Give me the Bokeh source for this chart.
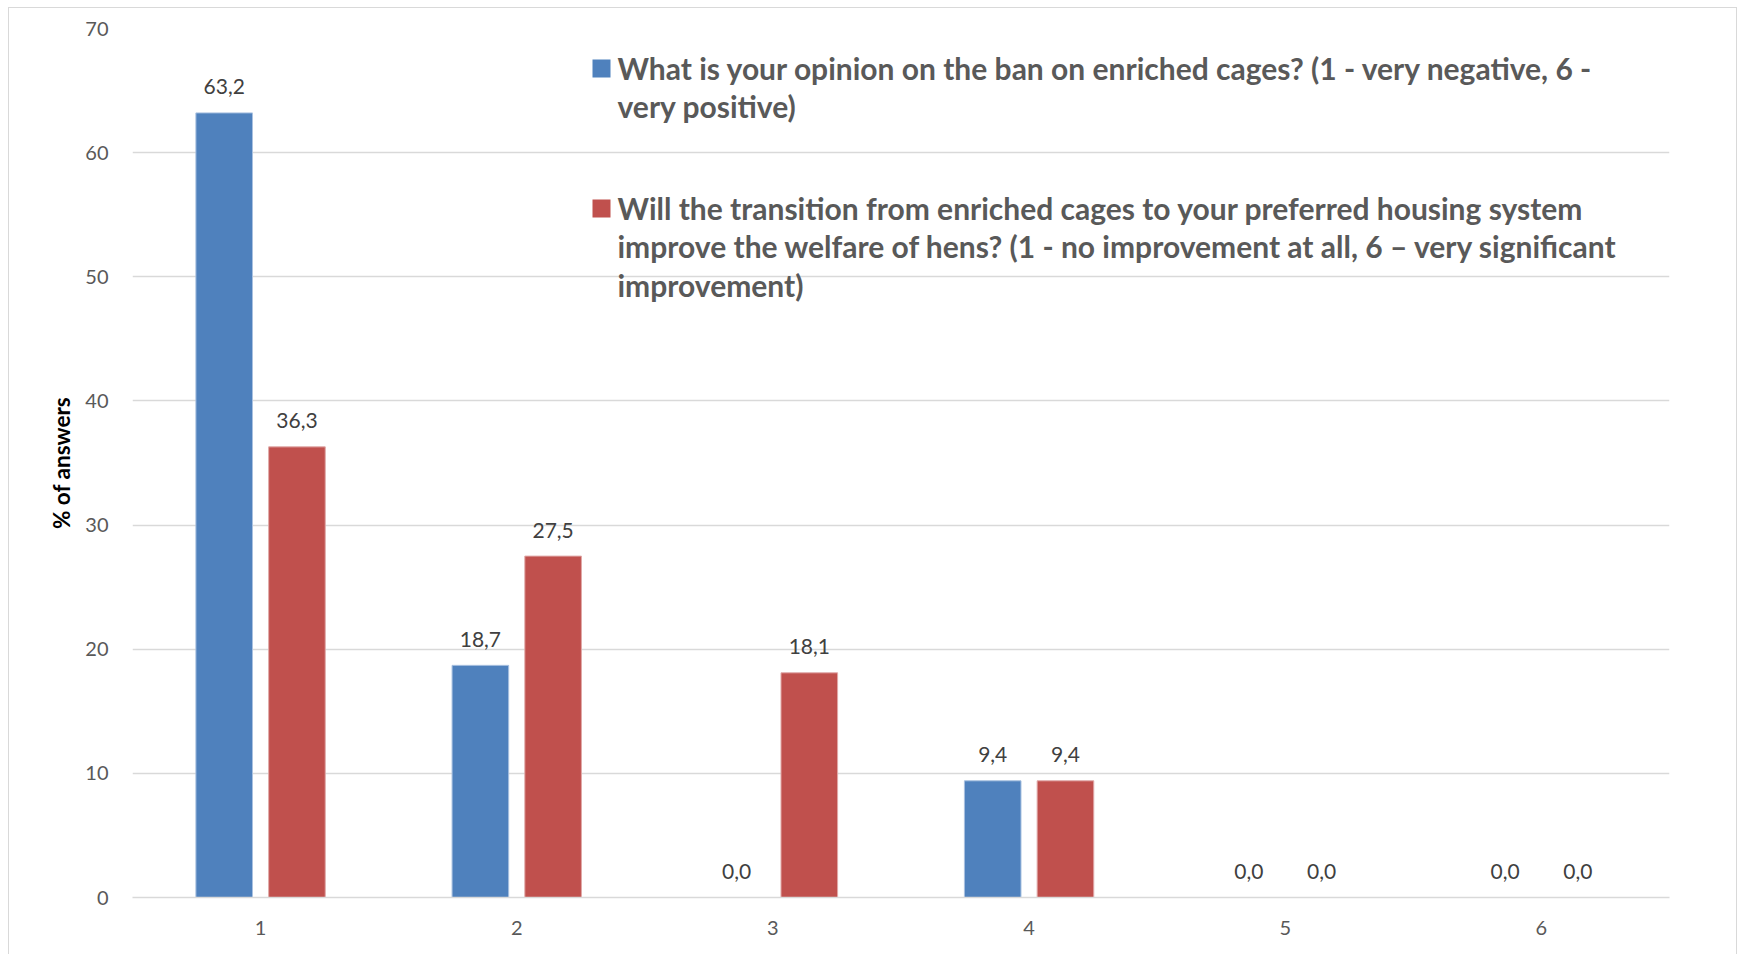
from bokeh.plotting import figure
from bokeh.models import FactorRange, Range1d, ColumnDataSource, FixedTicker, Label, BoxAnnotation
from bokeh.transform import dodge
from bokeh.embed import file_html
from bokeh.resources import INLINE
from bokeh.core.properties import value

# ---- data ----
categories = ["1", "2", "3", "4", "5", "6"]
opinion_on_ban = [63.2, 18.7, 0.0, 9.4, 0.0, 0.0]
welfare_improvement = [36.3, 27.5, 18.1, 9.4, 0.0, 0.0]
series_names = [
    "What is your opinion on the ban on enriched cages? (1 - very negative, 6 -\nvery positive)",
    "Will the transition from enriched cages to your preferred housing system\n"
    "improve the welfare of hens? (1 - no improvement at all, 6 \u2013 very significant\n"
    "improvement)",
]
y_ticks = [0, 10, 20, 30, 40, 50, 60, 70]
y_axis_title = "% of answers"


def fmt(v):
    return f"{v:.1f}".replace(".", ",")


src = ColumnDataSource(dict(
    cat=categories,
    a=opinion_on_ban,
    b=welfare_improvement,
    a_lbl=[fmt(v) for v in opinion_on_ban],
    b_lbl=[fmt(v) for v in welfare_improvement],
))

BLUE = "#4F81BD"
RED = "#C0504D"
GRID = "#d9d9d9"
TXT = "#595959"

p = figure(
    x_range=FactorRange(*categories, range_padding=0),
    y_range=Range1d(0, 70),
    width=1729, height=947,
    output_backend="svg", toolbar_location=None,
    min_border_left=123, min_border_right=69,
    min_border_top=20, min_border_bottom=58,
)
p.styles = {
    "margin-left": "8px", "margin-top": "7px",
    "border-left": "1.5px solid #d9d9d9",
    "border-top": "1.5px solid #d9d9d9",
    "border-right": "1.5px solid #d9d9d9",
    "box-sizing": "border-box",
}
p.outline_line_color = None
p.background_fill_color = "white"
p.border_fill_color = "white"

off = 0.142
bw = 0.221
r1 = p.vbar(x=dodge("cat", -off, range=p.x_range), top="a", width=bw, source=src,
            fill_color=BLUE, line_color="#a9c1e0", line_width=1)
r2 = p.vbar(x=dodge("cat", off, range=p.x_range), top="b", width=bw, source=src,
            fill_color=RED, line_color="#e0a9a8", line_width=1)

for col, lbl, sgn in (("a", "a_lbl", -1), ("b", "b_lbl", 1)):
    p.text(x=dodge("cat", sgn * off, range=p.x_range), y=col, text=lbl, source=src,
           text_align="center", text_baseline="alphabetic", y_offset=-26,
           text_font=value("Lato"), text_font_size="21px", text_color="#404040")

# axes
p.yaxis.ticker = FixedTicker(ticks=y_ticks)
p.yaxis.axis_line_color = None
p.yaxis.major_tick_line_color = None
p.yaxis.minor_tick_line_color = None
p.yaxis.major_label_standoff = 18
p.yaxis.major_label_text_font = "Lato"
p.yaxis.major_label_text_font_size = "20px"
p.yaxis.major_label_text_color = TXT
p.yaxis.axis_label = y_axis_title
p.yaxis.axis_label_text_font = "Lato"
p.yaxis.axis_label_text_font_style = "bold"
p.yaxis.axis_label_text_font_size = "22.5px"
p.yaxis.axis_label_text_color = "#000000"
p.yaxis.axis_label_standoff = 7

p.xaxis.axis_line_color = GRID
p.xaxis.axis_line_width = 1.5
p.xaxis.major_tick_line_color = None
p.xaxis.minor_tick_line_color = None
p.xaxis.major_label_standoff = 17
p.xaxis.major_label_text_font = "Lato"
p.xaxis.major_label_text_font_size = "20px"
p.xaxis.major_label_text_color = TXT

p.xgrid.grid_line_color = None
p.ygrid.grid_line_color = GRID
p.ygrid.grid_line_width = 1.5

# legend (drawn as annotations so the swatch aligns with the first text line)
legend_y = [848, 708]
for name, color, ly in zip(series_names, (BLUE, RED), legend_y):
    p.add_layout(BoxAnnotation(left=460, right=478, top=ly - 10, bottom=ly - 28,
                               left_units="screen", right_units="screen",
                               top_units="screen", bottom_units="screen",
                               fill_color=color, fill_alpha=1, line_color=None))
    p.add_layout(Label(x=485, y=ly, x_units="screen", y_units="screen", text=name,
                       text_align="left", text_baseline="top",
                       text_font="Lato", text_font_style="bold",
                       text_font_size="30px", text_color=TXT,
                       text_line_height=1.07))

open("out.html", "w").write(file_html(p, INLINE))
